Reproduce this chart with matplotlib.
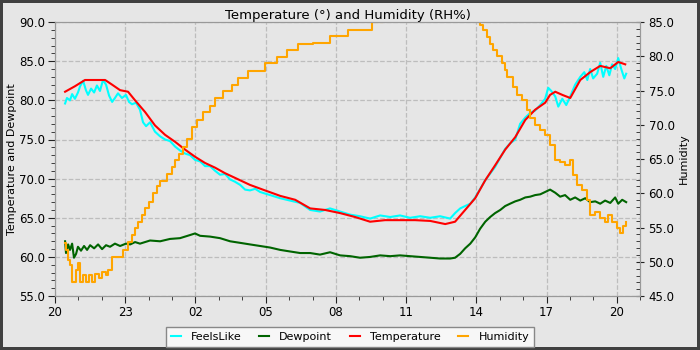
import matplotlib
matplotlib.use("Agg")
import matplotlib.pyplot as plt
from matplotlib.ticker import MultipleLocator, FormatStrFormatter

# (hours since 20:00, value)
temperature = [
    (0.43, 81.1), (0.85, 81.8), (1.28, 82.6), (1.71, 82.6), (2.14, 82.6), (2.44, 82.0),
    (2.78, 81.3), (3.12, 81.1), (3.42, 80.0), (3.85, 78.5), (4.27, 76.8), (4.70, 75.6),
    (5.13, 74.7), (5.56, 73.7), (5.98, 72.8), (6.41, 72.0), (6.84, 71.4), (7.26, 70.7),
    (7.69, 70.1), (8.33, 69.2), (8.97, 68.5), (9.62, 67.8), (10.26, 67.3), (10.90, 66.2),
    (11.54, 66.0), (12.18, 65.6), (12.82, 65.1), (13.46, 64.5), (14.10, 64.7), (14.74, 64.7),
    (15.38, 64.7), (16.03, 64.6), (16.67, 64.2), (17.09, 64.5), (17.52, 66.0), (17.95, 67.5),
    (18.38, 69.8), (18.80, 71.7), (19.23, 73.7), (19.66, 75.3), (20.09, 77.5), (20.51, 78.8),
    (20.94, 79.7), (21.15, 80.7), (21.37, 81.1), (21.67, 80.7), (22.01, 80.3), (22.44, 82.6),
    (22.86, 83.6), (23.29, 84.4), (23.72, 84.1), (24.06, 84.9), (24.36, 84.6),
]

feelslike = [
    (0.43, 79.6), (0.51, 80.3), (0.64, 80.0), (0.73, 80.8), (0.85, 80.2), (0.98, 81.0),
    (1.07, 81.8), (1.20, 82.5), (1.32, 81.3), (1.41, 80.7), (1.54, 81.5), (1.67, 81.0),
    (1.79, 81.9), (1.92, 81.2), (2.05, 82.6), (2.18, 82.0), (2.31, 80.6), (2.44, 79.8),
    (2.56, 80.3), (2.69, 80.9), (2.86, 80.3), (3.03, 80.7), (3.16, 79.8), (3.29, 79.5),
    (3.46, 79.7), (3.63, 78.8), (3.76, 77.2), (3.89, 76.7), (4.06, 77.2), (4.27, 76.0),
    (4.49, 75.4), (4.70, 75.0), (4.91, 74.8), (5.13, 74.1), (5.34, 73.6), (5.56, 73.2),
    (5.77, 73.0), (5.98, 72.4), (6.20, 72.2), (6.41, 71.6), (6.62, 71.6), (6.84, 71.0),
    (7.05, 70.5), (7.26, 70.6), (7.48, 69.9), (7.69, 69.6), (7.91, 69.2), (8.12, 68.6),
    (8.33, 68.5), (8.55, 68.7), (8.76, 68.3), (8.97, 68.1), (9.19, 67.9), (9.62, 67.5),
    (10.04, 67.2), (10.47, 66.9), (10.90, 66.0), (11.32, 65.8), (11.75, 66.2), (12.18, 65.8),
    (12.61, 65.4), (13.03, 65.2), (13.46, 64.9), (13.89, 65.3), (14.32, 65.1), (14.74, 65.3),
    (15.17, 65.0), (15.60, 65.2), (16.03, 65.0), (16.45, 65.2), (16.88, 64.9), (17.09, 65.6),
    (17.31, 66.2), (17.52, 66.5), (17.74, 66.8), (17.95, 67.6), (18.38, 69.8), (18.80, 71.5),
    (19.23, 73.8), (19.44, 74.5), (19.66, 75.0), (19.87, 77.0), (20.09, 77.8), (20.30, 78.4),
    (20.51, 78.7), (20.73, 79.4), (20.94, 80.2), (21.07, 81.6), (21.20, 81.2), (21.37, 80.5),
    (21.50, 79.2), (21.67, 80.2), (21.84, 79.4), (22.01, 80.5), (22.22, 82.0), (22.44, 83.0),
    (22.61, 83.6), (22.74, 82.6), (22.86, 84.0), (22.99, 82.8), (23.16, 83.4), (23.29, 84.8),
    (23.42, 83.0), (23.55, 84.4), (23.68, 83.2), (23.80, 84.6), (23.93, 84.0), (24.06, 85.4),
    (24.19, 84.0), (24.32, 82.8), (24.40, 83.4),
]

dewpoint = [
    (0.43, 62.0), (0.47, 60.5), (0.56, 61.6), (0.64, 60.9), (0.73, 61.7), (0.81, 59.9),
    (0.90, 60.4), (0.98, 61.3), (1.11, 60.8), (1.24, 61.4), (1.37, 60.9), (1.50, 61.5),
    (1.67, 61.1), (1.84, 61.6), (2.01, 61.0), (2.18, 61.5), (2.35, 61.3), (2.56, 61.7),
    (2.78, 61.4), (3.03, 61.7), (3.21, 61.6), (3.42, 61.9), (3.63, 61.7), (4.06, 62.1),
    (4.49, 62.0), (4.91, 62.3), (5.34, 62.4), (5.77, 62.8), (5.98, 63.0), (6.20, 62.7),
    (6.62, 62.6), (7.05, 62.4), (7.48, 62.0), (7.91, 61.8), (8.33, 61.6), (8.76, 61.4),
    (9.19, 61.2), (9.62, 60.9), (10.04, 60.7), (10.47, 60.5), (10.90, 60.5), (11.32, 60.3),
    (11.75, 60.6), (12.18, 60.2), (12.61, 60.1), (13.03, 59.9), (13.46, 60.0), (13.89, 60.2),
    (14.32, 60.1), (14.74, 60.2), (15.17, 60.1), (15.60, 60.0), (16.03, 59.9), (16.45, 59.8),
    (16.88, 59.8), (17.09, 59.9), (17.31, 60.4), (17.52, 61.1), (17.74, 61.7), (17.95, 62.5),
    (18.16, 63.6), (18.38, 64.5), (18.59, 65.1), (18.80, 65.6), (19.02, 66.0), (19.23, 66.5),
    (19.44, 66.8), (19.66, 67.1), (19.87, 67.3), (20.09, 67.6), (20.30, 67.7), (20.51, 67.9),
    (20.73, 68.0), (20.94, 68.3), (21.15, 68.6), (21.37, 68.2), (21.58, 67.7), (21.79, 67.9),
    (22.01, 67.3), (22.22, 67.6), (22.44, 67.2), (22.65, 67.5), (22.86, 67.0), (23.08, 67.1),
    (23.29, 66.8), (23.50, 67.2), (23.72, 66.9), (23.93, 67.6), (24.06, 66.8), (24.23, 67.3),
    (24.40, 67.0),
]

humidity = [
    (0.43, 52.7), (0.47, 51.7), (0.56, 50.3), (0.64, 49.5), (0.73, 47.0), (0.90, 48.8),
    (0.98, 49.8), (1.07, 47.0), (1.20, 48.1), (1.32, 47.0), (1.45, 48.1), (1.58, 47.0),
    (1.71, 48.2), (1.88, 47.6), (2.01, 48.5), (2.18, 48.1), (2.26, 48.8), (2.42, 50.7),
    (2.92, 51.7), (3.13, 52.9), (3.28, 53.9), (3.42, 54.9), (3.56, 55.8), (3.71, 56.8),
    (3.85, 57.8), (4.03, 58.7), (4.20, 60.0), (4.35, 61.0), (4.49, 61.8), (4.77, 62.8),
    (4.99, 63.9), (5.13, 64.9), (5.31, 65.8), (5.48, 66.8), (5.65, 68.0), (5.84, 69.7),
    (6.06, 70.7), (6.34, 71.9), (6.62, 72.7), (6.84, 73.9), (7.19, 74.9), (7.55, 75.8),
    (7.83, 76.8), (8.26, 77.9), (8.97, 79.0), (9.47, 79.9), (9.90, 80.9), (10.40, 81.8),
    (11.04, 82.0), (11.75, 82.9), (12.53, 83.8), (13.53, 85.0), (14.00, 86.0), (14.60, 87.0),
    (15.30, 88.0), (16.00, 88.5), (16.80, 88.0), (17.40, 87.0), (17.90, 86.0), (18.08, 85.0),
    (18.16, 84.6), (18.29, 83.8), (18.46, 82.8), (18.59, 81.8), (18.72, 80.9), (18.89, 80.0),
    (19.10, 79.0), (19.23, 78.0), (19.32, 77.0), (19.57, 75.5), (19.74, 74.3), (19.96, 73.6),
    (20.17, 72.2), (20.30, 71.0), (20.51, 70.0), (20.73, 69.2), (20.94, 68.5), (21.15, 67.0),
    (21.37, 64.9), (21.58, 64.6), (21.79, 64.1), (22.01, 64.9), (22.14, 62.7), (22.31, 61.2),
    (22.52, 60.5), (22.74, 59.0), (22.86, 56.8), (23.08, 57.3), (23.29, 56.4), (23.50, 55.8),
    (23.63, 56.8), (23.80, 55.8), (24.02, 54.9), (24.15, 54.2), (24.27, 55.3), (24.40, 55.8),
]

xticks = [0, 3, 6, 9, 12, 15, 18, 21, 24]
xticklabels = ["20", "23", "02", "05", "08", "11", "14", "17", "20"]

plt.rcParams["font.family"] = "DejaVu Sans"
plt.rcParams["font.size"] = 8.5

bg = "#e6e6e6"
fig = plt.figure(figsize=(7, 3.5), dpi=100, facecolor=bg, edgecolor="#404040", linewidth=4)
ax = fig.add_axes([0.0786, 0.154, 0.836, 0.783])
ax.set_facecolor(bg)
ax2 = ax.twinx()

l1, = ax.plot(*zip(*feelslike), color="cyan", lw=1.5, label="FeelsLike")
l2, = ax.plot(*zip(*dewpoint), color="#006400", lw=1.5, label="Dewpoint")
l3, = ax.plot(*zip(*temperature), color="red", lw=1.5, label="Temperature")
l4, = ax2.plot(*zip(*humidity), color="orange", lw=1.5, drawstyle="steps-post", label="Humidity")

ax.set_xlim(0, 25)
ax.set_ylim(55, 90)
ax2.set_ylim(45, 85)
ax.set_xticks(xticks)
ax.set_xticklabels(xticklabels)
ax.xaxis.set_minor_locator(MultipleLocator(1))
ax.yaxis.set_major_locator(MultipleLocator(5))
ax.yaxis.set_minor_locator(MultipleLocator(1))
ax2.yaxis.set_major_locator(MultipleLocator(5))
ax2.yaxis.set_minor_locator(MultipleLocator(1))
ax.yaxis.set_major_formatter(FormatStrFormatter("%.1f"))
ax2.yaxis.set_major_formatter(FormatStrFormatter("%.1f"))

ax.grid(True, which="major", linestyle="--", color="#bdbdbd", lw=0.9)
for a in (ax, ax2):
    for s in a.spines.values():
        s.set_color("#999999")
ax.tick_params(which="major", length=5, color="#222222", pad=2)
ax.tick_params(which="minor", length=3, color="#222222")
ax2.tick_params(which="major", direction="inout", length=6, color="#222222", pad=3)
ax2.tick_params(which="minor", direction="in", length=3, color="#222222")

ax.set_ylabel("Temperature and Dewpoint", fontsize=8, labelpad=2)
ax2.set_ylabel("Humidity", fontsize=8, labelpad=3)
ax.set_title("Temperature (°) and Humidity (RH%)", fontsize=9.5, pad=1)

leg = fig.legend(handles=[l1, l2, l3, l4], loc="lower center", bbox_to_anchor=(0.5, -0.008),
                 ncol=4, frameon=True, fancybox=False, handlelength=0.9, handletextpad=0.9,
                 columnspacing=1.6, fontsize=8, borderpad=0.45)
leg.get_frame().set_facecolor("#f7f7f7")
leg.get_frame().set_edgecolor("#888888")
leg.get_frame().set_alpha(1)

fig.savefig("out.png", dpi=100, facecolor=bg, edgecolor="#404040")
